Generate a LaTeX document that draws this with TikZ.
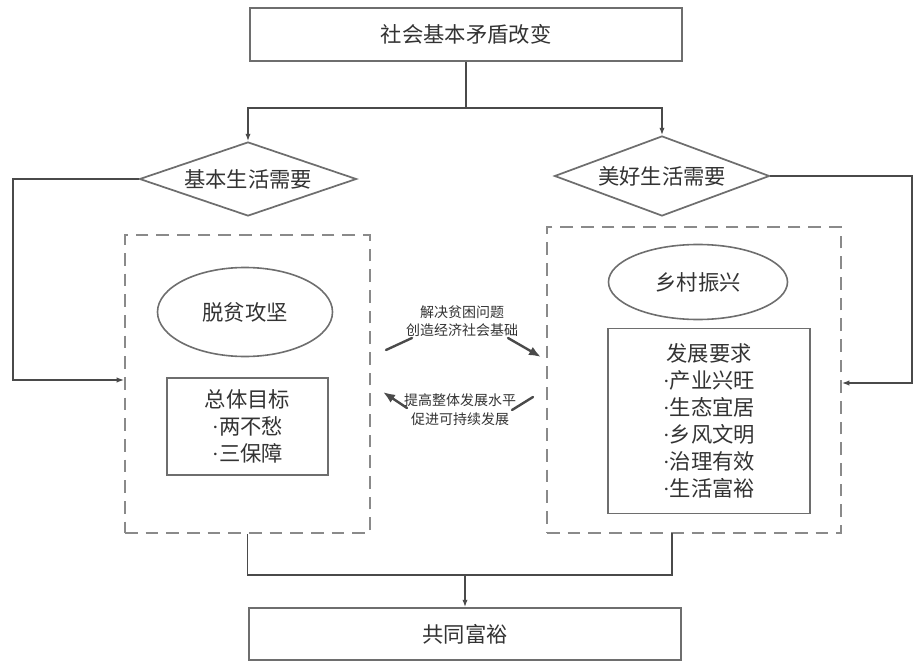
\documentclass[tikz,border=0pt]{standalone}
\usepackage{fontspec}
\newfontfamily\cjk{Noto Sans CJK SC}
\newfontfamily\dotfont{Liberation Serif}
\newcommand{\bdot}{{\dotfont ·}}
\usetikzlibrary{shapes.geometric,arrows.meta}
\definecolor{linec}{HTML}{4A4A4A}
\definecolor{boxc}{HTML}{6E6E6E}
\definecolor{dashc}{HTML}{8A8A8A}
\definecolor{txtc}{HTML}{333333}
\tikzset{
  every node/.style={font=\cjk, text=txtc},
  solidbox/.style={draw=boxc, line width=1.3pt, rectangle, inner sep=0pt, align=center},
  dashbox/.style={draw=dashc, line width=1.5pt, rectangle, dash pattern=on 9.5pt off 6pt, inner sep=0pt},
  dia/.style={draw=boxc, line width=1.3pt, diamond, aspect=2.9, inner sep=0pt},
  ell/.style={draw=boxc, line width=1.2pt, ellipse, inner sep=0pt},
  conn/.style={draw=linec, line width=1pt},
  arr/.style={conn, -{Latex[length=5.5pt,width=4pt]}},
  marr/.style={draw=linec, line width=1.8pt, line cap=round},
  marrh/.style={marr, -{Latex[length=9pt,width=7pt]}},
  big/.style={font=\cjk\fontsize{16}{20.2}\selectfont},
  small/.style={font=\cjk\fontsize{10.5}{14}\selectfont, align=center},
}
\begin{document}
\begin{tikzpicture}[x=0.75pt,y=-0.75pt]
\useasboundingbox (0,0) rectangle (921,663);
% top and bottom boxes
\node[solidbox, big, minimum width=324pt, minimum height=39.75pt] (top) at (466,34.5) {社会基本矛盾改变};
\node[solidbox, big, minimum width=324pt, minimum height=39pt] (bot) at (465,634) {共同富裕};
% diamonds
\node[dia, big, minimum width=162.75pt, minimum height=55.5pt] (d1) at (248,179) {基本生活需要};
\node[dia, big, minimum width=161.25pt, minimum height=60pt] (d2) at (662,176) {美好生活需要};
% dashed containers
\node[dashbox, minimum width=183.75pt, minimum height=223.5pt] (lbox) at (247.5,384) {};
\node[dashbox, minimum width=220.5pt, minimum height=229.5pt] (rbox) at (694,380) {};
% ellipses
\node[ell, big, minimum width=131.25pt, minimum height=66.75pt] (e1) at (245,312) {脱贫攻坚};
\node[ell, big, minimum width=134.25pt, minimum height=56.25pt] (e2) at (698,282) {乡村振兴};
% inner boxes
\node[solidbox, big, minimum width=120.75pt, minimum height=72.75pt] (g1) at (247.5,426.5) {总体目标\\\bdot 两不愁\\\bdot 三保障};
\node[solidbox, big, minimum width=151.5pt, minimum height=138.75pt] (g2) at (709,421) {发展要求\\\bdot 产业兴旺\\\bdot 生态宜居\\\bdot 乡风文明\\\bdot 治理有效\\\bdot 生活富裕};
% connectors
\coordinate (split) at (466,108);
\draw[conn] (top.south) -- (split);
\draw[arr] (split) -| (d1.north);
\draw[arr] (split) -| (d2.north);
\coordinate (lc) at (13,380);
\draw[arr] (d1.west) -| (lc) -- (lbox.west |- lc);
\coordinate (rc) at (912,383);
\draw[arr] (d2.east) -| (rc) -- (rbox.east |- rc);
\coordinate (join) at (465,575);
\coordinate (rb) at (672,533);
\draw[conn] (lbox.south) |- (join);
\draw[conn] (rb) |- (join);
\draw[arr] (join) -- (bot.north);
% middle texts and arrows
\node[small] (t1) at (462,321) {解决贫困问题\\创造经济社会基础};
\node[small] (t2) at (460,410) {提高整体发展水平\\促进可持续发展};
\coordinate (u1) at (386,350);
\coordinate (u2) at (412,338);
\coordinate (u3) at (508,338);
\coordinate (u4) at (541,357);
\draw[marr] (u1) -- (u2);
\draw[marrh] (u3) -- (u4);
\coordinate (l1) at (533,397);
\coordinate (l2) at (512,410);
\coordinate (l3) at (407,408);
\coordinate (l4) at (383,392);
\draw[marr] (l1) -- (l2);
\draw[marrh] (l3) -- (l4);
\end{tikzpicture}
\end{document}
